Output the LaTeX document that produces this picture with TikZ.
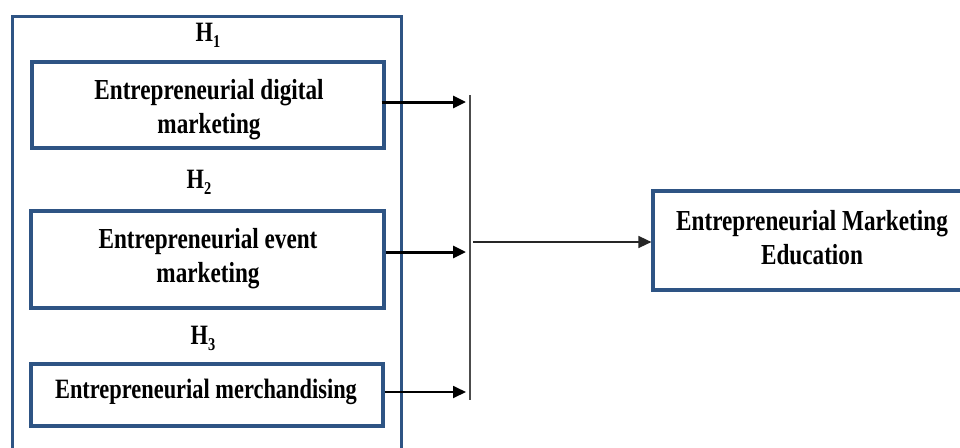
\documentclass[tikz,border=0pt]{standalone}
\usepackage{fontspec}
\setmainfont{Liberation Serif}[FakeStretch=0.8]
\usetikzlibrary{arrows.meta}
\definecolor{boxblue}{RGB}{46,84,132}
\newcommand{\hyp}[1]{H\raisebox{-0.22em}{\fontsize{18}{18}\selectfont #1}}
\tikzset{
  varbox/.style={draw=boxblue, line width=3.2pt, rectangle, inner sep=0pt},
  vartext/.style={align=center, inner sep=0pt, font=\fontsize{29}{34}\selectfont\bfseries},
  hlabel/.style={font=\fontsize{28}{30}\selectfont\bfseries, inner sep=0pt},
  thickarrow/.style={draw=black, line width=3pt, -{Triangle[length=13pt,width=12pt]}},
  thinarrow/.style={draw=black, line width=1.8pt, -{Triangle[length=13pt,width=12pt]}},
  barline/.style={draw=black!70, line width=1.4pt}
}
\begin{document}
\begin{tikzpicture}[x=1pt,y=-1pt]
\useasboundingbox (0,0) rectangle (960,447);
\clip (0,0) rectangle (960,447);
\fill[white] (0,0) rectangle (960,447);
% outer group box
\node[draw=boxblue, line width=3pt, rectangle, minimum width=389pt, minimum height=452pt, inner sep=0pt] (outer) at (206.5,242) {};
% hypothesis labels
\node[hlabel] (h1) at (208,35) {\hyp{1}};
\node[hlabel] (h2) at (199,182) {\hyp{2}};
\node[hlabel] (h3) at (203,338) {\hyp{3}};
% independent variables
\node[varbox, minimum width=352pt, minimum height=86pt] (dig) at (208,105) {};
\node[vartext] (digt) at (209,110) {Entrepreneurial digital\\marketing};
\node[varbox, minimum width=353pt, minimum height=97pt] (evt) at (207.5,259.5) {};
\node[vartext] (evtt) at (208,258.5) {Entrepreneurial event\\marketing};
\node[varbox, minimum width=352pt, minimum height=62pt] (mer) at (207,395) {};
\node[vartext, font=\fontsize{28}{34}\selectfont\bfseries] (mert) at (206,392) {Entrepreneurial merchandising};
% dependent variable
\node[varbox, minimum width=318pt, minimum height=99pt] (edu) at (812,240.5) {};
\node[vartext] (edut) at (812,238) {Entrepreneurial Marketing\\Education};
% collecting bar
\coordinate (bartop) at (470,95);
\coordinate (barbot) at (470,400);
\coordinate (a1) at (466,102);
\coordinate (a2) at (466,252);
\coordinate (a3) at (466,392);
\coordinate (out) at (473,242);
\draw[barline] (bartop) -- (barbot);
\draw[thickarrow] (dig.east |- a1) ++(-4,0) -- (a1);
\draw[thickarrow] (evt.east |- a2) -- (a2);
\draw[thinarrow] (mer.east |- a3) -- (a3);
\draw[thinarrow, draw=black!85, line width=1.5pt] (out) -- (edu.west |- out);
\end{tikzpicture}
\end{document}
